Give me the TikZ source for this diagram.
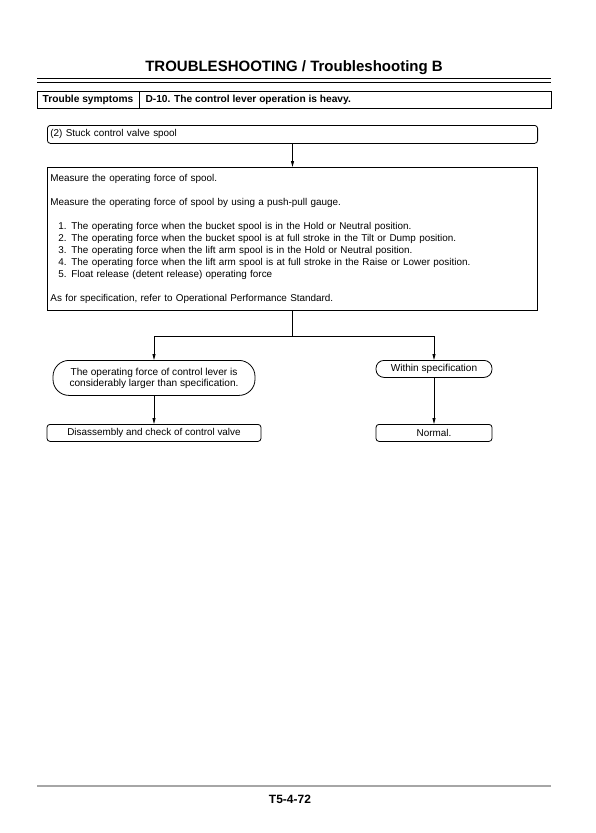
\documentclass[tikz,border=0pt]{standalone}
\usepackage{fontspec}
\setmainfont{Liberation Sans}
\usetikzlibrary{arrows.meta}
\tikzset{
  box/.style={draw, line width=0.8pt, inner sep=3pt, font=\fontsize{9.9}{12}\selectfont},
  rbox/.style={box, rounded corners=3pt},
  pill/.style={box, rounded corners=16pt, align=center, font=\fontsize{10.1}{11}\selectfont},
  arr/.style={-{Triangle[length=6pt,width=3pt]}, line width=0.8pt},
  conn/.style={line width=0.8pt},
}
\newcommand{\itm}[1]{\hspace*{8pt}\makebox[13pt][l]{#1}}
\begin{document}
\begin{tikzpicture}[x=1pt,y=-1pt]
\useasboundingbox (0,0) rectangle (595,833);
\node[font=\fontsize{15}{17}\selectfont\bfseries] (title) at (294,68) {TROUBLESHOOTING / Troubleshooting B};
\draw[line width=1.4pt] (37,78.5) -- (551,78.5);
\draw[line width=0.8pt] (37,82) -- (551,82);
% trouble symptoms table
\draw[line width=0.8pt] (37,91) rectangle (551,108);
\draw[line width=0.8pt] (139,91) -- (139,108);
\node[font=\fontsize{10.2}{12}\selectfont\bfseries] (ts) at (88,99.5) {Trouble symptoms};
\node[font=\fontsize{10.2}{12}\selectfont\bfseries, anchor=west] (sym) at (142,99.5) {D-10. The control lever operation is heavy.};
% flow
\node[rbox, anchor=north west, minimum height=18pt, text width=484.2pt, align=left] (stuck) at (47,125) {(2) Stuck control valve spool};
\node[box, anchor=north west, minimum height=143pt, text width=484.2pt, align=left] (big) at (47,167) {%
Measure the operating force of spool.\\[12pt]
Measure the operating force of spool by using a push-pull gauge.\\[12pt]
\itm{1.}The operating force when the bucket spool is in the Hold or Neutral position.\\
\itm{2.}The operating force when the bucket spool is at full stroke in the Tilt or Dump position.\\
\itm{3.}The operating force when the lift arm spool is in the Hold or Neutral position.\\
\itm{4.}The operating force when the lift arm spool is at full stroke in the Raise or Lower position.\\
\itm{5.}Float release (detent release) operating force\\[12pt]
As for specification, refer to Operational Performance Standard.};
\draw[arr] (stuck.south -| big.north) -- (big.north);
\node[pill, anchor=north, minimum width=202pt, minimum height=35pt] (larger) at (154,360) {The operating force of control lever is\\considerably larger than specification.};
\node[pill, anchor=north, minimum width=116pt, minimum height=17pt, rounded corners=8pt] (within) at (434,360) {Within specification};
\node[rbox, anchor=north, minimum width=214pt, minimum height=17pt] (dis) at (154,424) {Disassembly and check of control valve};
\node[rbox, anchor=north, minimum width=116pt, minimum height=17pt] (normal) at (434,424) {Normal.};
\coordinate (j) at ([yshift=-26pt]big.south);
\draw[conn] (big.south) -- (j);
\draw[arr] (j) -| (larger.north);
\draw[arr] (j) -| (within.north);
\draw[arr] (larger.south) -- (dis.north);
\draw[arr] (within.south) -- (normal.north);
% footer
\draw[line width=1.4pt, gray!70] (37,786) -- (551,786);
\node[font=\fontsize{12}{14}\selectfont\bfseries] (page) at (290,799) {T5-4-72};
\end{tikzpicture}
\end{document}
